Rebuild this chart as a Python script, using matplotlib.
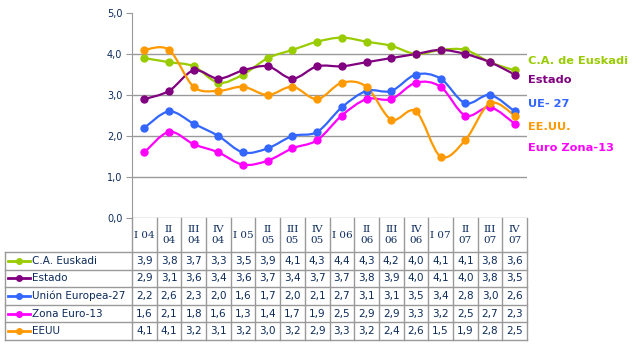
import matplotlib
matplotlib.use("Agg")
import matplotlib.pyplot as plt
import numpy as np
from matplotlib.path import Path
from matplotlib.patches import PathPatch

quarters = ["I 04", "II\n04", "III\n04", "IV\n04", "I 05", "II\n05", "III\n05", "IV\n05",
            "I 06", "II\n06", "III\n06", "IV\n06", "I 07", "II\n07", "III\n07", "IV\n07"]

euskadi = [3.9, 3.8, 3.7, 3.3, 3.5, 3.9, 4.1, 4.3, 4.4, 4.3, 4.2, 4.0, 4.1, 4.1, 3.8, 3.6]
estado = [2.9, 3.1, 3.6, 3.4, 3.6, 3.7, 3.4, 3.7, 3.7, 3.8, 3.9, 4.0, 4.1, 4.0, 3.8, 3.5]
ue27 = [2.2, 2.6, 2.3, 2.0, 1.6, 1.7, 2.0, 2.1, 2.7, 3.1, 3.1, 3.5, 3.4, 2.8, 3.0, 2.6]
euro13 = [1.6, 2.1, 1.8, 1.6, 1.3, 1.4, 1.7, 1.9, 2.5, 2.9, 2.9, 3.3, 3.2, 2.5, 2.7, 2.3]
eeuu = [4.1, 4.1, 3.2, 3.1, 3.2, 3.0, 3.2, 2.9, 3.3, 3.2, 2.4, 2.6, 1.5, 1.9, 2.8, 2.5]

table_names = ["C.A. Euskadi", "Estado", "Unión Europea-27", "Zona Euro-13", "EEUU"]
side_names = ["C.A. de Euskadi", "Estado", "UE- 27", "EE.UU.", "Euro Zona-13"]

series = [euskadi, estado, ue27, euro13, eeuu]
colors = ["#99CC00", "#800080", "#3366FF", "#FF00FF", "#FF9900"]
side_colors = ["#99CC00", "#800080", "#3366FF", "#FF9900", "#FF00FF"]
side_y = [61, 80, 104, 127, 148]

W, H = 643, 356
txt = "#0B2A5B"
grey = "#999999"


def px(l, t, r, b):
    return [l / W, 1 - b / H, (r - l) / W, (b - t) / H]


def smooth_path(x, y):
    # Excel-style smoothed line: Catmull-Rom segments as cubic Beziers
    pts = np.column_stack([x, y])
    n = len(pts)
    verts = [pts[0]]
    codes = [Path.MOVETO]
    for i in range(n - 1):
        p0 = pts[i - 1] if i > 0 else pts[i]
        p1, p2 = pts[i], pts[i + 1]
        p3 = pts[i + 2] if i + 2 < n else pts[i + 1]
        c1 = p1 + (p2 - p0) / 6
        c2 = p2 - (p3 - p1) / 6
        verts += [c1, c2, p2]
        codes += [Path.CURVE4] * 3
    return Path(verts, codes)


fig = plt.figure(figsize=(W / 100, H / 100), dpi=100)

ax = fig.add_axes(px(132, 13, 527, 218))
x = np.arange(len(quarters)) + 0.5
for vals, c in zip(series, colors):
    ax.add_patch(PathPatch(smooth_path(x, vals), fill=False, edgecolor=c, lw=1.6, zorder=3))
    ax.plot(x, vals, "o", color=c, ms=5, zorder=4)

ax.set_xlim(0, len(quarters))
ax.set_ylim(0, 5)
ax.set_yticks([0, 1, 2, 3, 4, 5])
ax.set_yticklabels([f"{v:.1f}".replace(".", ",") for v in range(6)], fontsize=7, color=txt)
ax.set_xticks([])
for v in [0, 1, 2, 3, 4]:
    ax.axhline(v, color=grey, lw=1, zorder=1)
for s in ["top", "right", "bottom"]:
    ax.spines[s].set_visible(False)
ax.spines["left"].set_color(grey)
ax.tick_params(axis="y", length=4, color=grey, pad=3)

for name, c, yy in zip(side_names, side_colors, side_y):
    fig.text(528 / W, 1 - yy / H, name, color=c, fontsize=8.2, fontweight="bold", va="center", ha="left")

# data table under the chart
tab = fig.add_axes(px(132, 218, 527, 340))
tab.set_xlim(0, len(quarters))
tab.set_ylim(122, 0)
tab.axis("off")
colw = 395 / len(quarters)
xl = (5 - 132) / colw
head = 34
rowh = (122 - head) / len(series)

for i in range(len(quarters) + 1):
    tab.plot([i, i], [0, 122], color=grey, lw=1, clip_on=False)
for k in range(len(series) + 1):
    tab.plot([xl, len(quarters)], [head + k * rowh] * 2, color=grey, lw=1, clip_on=False)
tab.plot([xl, xl], [head, 122], color=grey, lw=1, clip_on=False)

for i, q in enumerate(quarters):
    tab.text(i + 0.5, head / 2, q, ha="center", va="center", fontsize=7.5, color=txt,
             family="DejaVu Serif", linespacing=1.3)

for k, (name, vals, c) in enumerate(zip(table_names, series, colors)):
    yc = head + (k + 0.5) * rowh
    tab.plot([(8 - 132) / colw, (30 - 132) / colw], [yc, yc], color=c, lw=2, clip_on=False)
    tab.plot([(19 - 132) / colw], [yc], "o", color=c, ms=4, clip_on=False)
    tab.text((32 - 132) / colw, yc, name, ha="left", va="center", fontsize=7.5, color=txt)
    for i, v in enumerate(vals):
        tab.text(i + 0.5, yc, f"{v:.1f}".replace(".", ","), ha="center", va="center",
                 fontsize=7.5, color=txt)

fig.savefig("out.png", dpi=100)
